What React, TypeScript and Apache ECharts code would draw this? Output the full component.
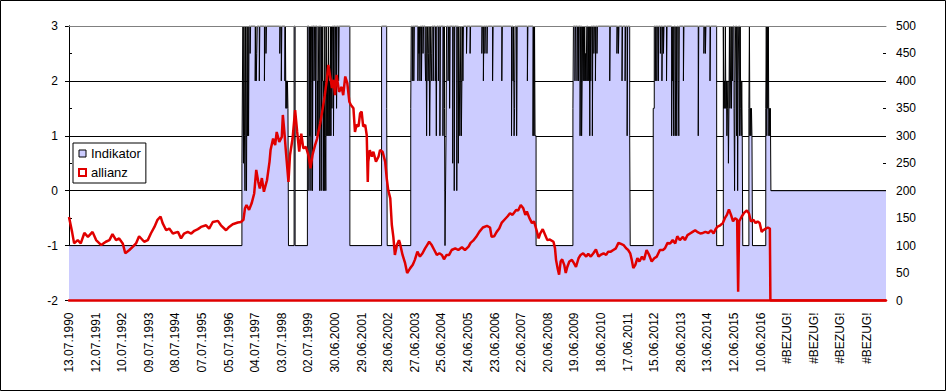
import React, { useEffect, useRef } from "react";
import * as echarts from "echarts";

// Category tick labels, one every 52 weekly points
const TICK_LABELS: string[] = [
  "13.07.1990", "12.07.1991", "10.07.1992", "09.07.1993", "08.07.1994", "07.07.1995",
  "05.07.1996", "04.07.1997", "03.07.1998", "02.07.1999", "30.06.2000", "29.06.2001",
  "28.06.2002", "27.06.2003", "25.06.2004", "24.06.2005", "23.06.2006", "22.06.2007",
  "20.06.2008", "19.06.2009", "18.06.2010", "17.06.2011", "15.06.2012", "28.06.2013",
  "13.06.2014", "12.06.2015", "10.06.2016", "#BEZUG!", "#BEZUG!", "#BEZUG!", "#BEZUG!",
];
const WEEKS_PER_LABEL = 52;
const LAST_WEEK = 1597;

// Indikator (left axis): [week, value] – value holds until next entry
const indikator: [number, number][] = [
  [0, -1], [338, 0.5], [339, 2], [340, 3], [341, 0.5], [342, 3], [343, 1], [344, 0], [345, 3], [346, 1], [347, 0], [348, 3], [349, 1], [350, 3], [351, 1], [352, 3], [354, 2.5], [355, 3], [364, 2], [365, 3], [366, 2], [367, 2.5], [368, 3], [372, 2], [373, 3], [382, 2], [383, 3], [385, 2.5], [386, 3], [412, 2.5], [413, 3], [415, 2], [416, 3], [422, 2], [423, 3], [424, 1.5], [425, 2], [426, 1.5], [427, 2], [428, 1.5], [429, -1], [440, 3], [442, -1],
  [466, 3], [469, 0], [470, 3], [471, 1], [472, 3], [473, 0], [474, 3], [476, 0], [477, 3], [479, 2], [480, 3], [482, 1], [483, 3], [485, 1], [486, 2], [487, 1], [488, 3], [490, 0], [491, 3], [493, 0], [494, 3], [495, 2], [496, 3], [497, 0], [498, 2], [499, 0], [500, 3], [501, 1], [502, 0], [503, 3], [504, 1], [505, 2], [506, 1], [507, 3], [508, 1], [509, 2], [510, 1], [511, 3], [512, 1], [513, 3], [514, 1.5], [515, 3], [517, 1], [518, 3], [520, 2], [521, 3], [523, 1.5], [524, 3], [527, 2], [528, 3], [549, -1],
  [611, 3], [621, 1.5], [622, -1],
  [668, 1.5], [669, 3], [671, 2], [672, 3], [674, 2], [675, 3], [682, 2], [683, 3], [684, 2.5], [685, 3], [686, 2], [687, 3], [689, 2], [690, 3], [692, 2.5], [693, 3], [696, 2.5], [697, 2], [698, 3], [699, 1], [700, 2.5], [701, 3], [702, 2], [703, 2.5], [704, 3], [705, 1], [706, 2], [707, 3], [708, 2.5], [709, 2], [710, 3], [712, 2], [713, 3], [716, 2], [717, 3], [718, 1], [719, 3], [722, 2], [723, 3], [725, 1], [726, 3], [731, 1], [732, 3], [734, 1.5], [735, -1], [736, 0], [737, 1], [738, 3], [741, 2], [742, 3], [744, 1.5], [745, 3], [750, 0.5], [751, 3], [753, 0], [754, 3], [758, 0], [759, 3], [761, 0.5], [762, 3], [763, 2], [764, 1], [765, 2], [766, 3], [767, 1], [768, 2], [769, 3], [770, 2], [771, 3], [777, 2.5], [778, 3], [784, 2.5], [785, 3], [807, 2.5], [808, 3], [810, 2], [811, 3], [813, 2.5], [814, 3], [817, 2.5], [818, 3], [828, 2], [829, 3], [846, 2], [847, 3], [865, 1], [866, 3], [868, 2], [869, 3], [870, 1], [871, 1.5], [872, 3], [875, 1], [876, 3], [896, 2], [897, 3], [907, 1], [908, 3], [909, 1], [910, 3], [911, 1], [913, -1],
  [985, 1.5], [986, 3], [989, 2], [990, 3], [993, 2], [994, 3], [996, 2], [997, 3], [999, 1], [1000, 3], [1002, 1], [1003, 2], [1004, 3], [1005, 2], [1006, 3], [1007, 2], [1008, 3], [1009, 2], [1010, 2.5], [1011, 2], [1012, 3], [1014, 2], [1015, 3], [1016, 2], [1017, 3], [1018, 1], [1019, 3], [1020, 2], [1021, 3], [1023, 1], [1024, 3], [1026, 2.5], [1027, 3], [1029, 2], [1030, 3], [1032, 2.5], [1033, 3], [1057, 2], [1058, 3], [1071, 2.5], [1072, 3], [1074, 2.5], [1075, 3], [1081, 2], [1082, 3], [1087, 2], [1088, 3], [1091, 1], [1092, 3], [1096, 1], [1097, -1],
  [1142, 1.5], [1144, 3], [1146, 2], [1147, 3], [1149, 2], [1150, 3], [1152, 2], [1153, 3], [1156, 2.5], [1157, 3], [1159, 2], [1160, 3], [1162, 2.5], [1163, 3], [1168, 2], [1169, 3], [1178, 1], [1179, 3], [1180, 2], [1181, 3], [1182, 1], [1183, 3], [1185, 1], [1186, 2], [1187, 3], [1188, 1], [1189, 3], [1191, 2], [1192, 1], [1193, 3], [1201, 2], [1202, 3], [1230, 1], [1231, 3], [1241, 2.5], [1242, 3], [1244, 2.5], [1245, 3], [1253, 2], [1254, 3], [1266, -1],
  [1279, 3], [1280, 1.5], [1281, 2], [1282, 1.5], [1283, 3], [1284, 1.5], [1285, 2], [1286, 1], [1287, 1.5], [1288, 2], [1289, 0.5], [1290, 1.5], [1291, 3], [1292, 1.5], [1293, 2], [1294, 3], [1295, 1.5], [1296, 3], [1297, 2], [1298, 3], [1300, 1.5], [1301, 0], [1302, 2], [1303, 3], [1305, 1], [1306, 3], [1307, 0], [1308, 2], [1309, 3], [1311, 1], [1312, 3], [1313, 1.5], [1314, 1], [1315, 2], [1316, 1], [1317, -1],
  [1329, 1.5], [1330, 3], [1331, 1], [1332, 1.5], [1333, 1], [1334, 1.5], [1335, 1], [1336, -1],
  [1362, 1.5], [1363, 3], [1364, 1], [1365, 3], [1366, 1.5], [1367, 3], [1368, 1], [1369, 1.5], [1370, 1], [1371, 1.5], [1372, 0], [1597, 0],
];

// allianz (right axis): [week, price]
const allianz: [number, number][] = [
  [0, 152], [6, 125], [10, 104], [17, 110], [23, 104], [30, 123], [37, 116], [46, 125], [53, 110], [63, 101], [72, 107], [79, 110], [85, 121], [92, 110], [98, 113], [105, 104], [110, 86], [118, 92], [125, 98], [131, 104], [137, 117], [147, 107], [154, 110], [160, 122], [167, 134], [173, 147], [179, 153], [183, 141], [190, 128], [196, 131], [203, 122], [213, 125], [219, 113], [225, 122], [232, 125], [239, 122], [245, 127], [252, 130], [258, 134], [268, 137], [274, 131], [281, 143], [291, 145], [297, 137], [307, 128], [313, 134], [320, 139], [330, 142], [336, 143],
  [341, 147], [344, 168], [347, 174], [352, 165], [357, 177], [362, 195], [366, 238], [370, 216], [373, 204], [377, 223], [381, 198], [387, 219], [392, 253], [394, 274], [399, 295], [403, 283], [406, 307], [411, 289], [416, 298], [418, 338], [421, 307], [424, 271], [429, 216], [432, 265], [437, 295], [442, 347], [446, 307], [450, 271], [454, 304], [458, 277], [463, 280], [468, 265], [472, 241], [476, 265], [481, 283], [485, 295], [491, 323], [496, 350], [500, 374], [504, 402], [507, 429], [510, 411], [514, 387], [517, 402], [520, 374], [523, 411], [528, 380], [533, 389], [536, 374], [540, 408], [544, 396], [548, 362], [551, 356], [556, 350], [559, 307], [562, 320], [566, 317], [569, 341], [572, 344], [575, 317], [579, 320], [582, 301], [584, 216], [585, 253], [588, 274], [592, 262], [595, 271], [600, 253], [605, 262], [608, 274], [613, 271], [618, 253], [621, 223], [624, 201], [628, 186], [631, 138], [634, 116], [637, 83], [641, 101], [645, 110],
  [647, 104], [652, 83], [657, 68], [661, 50], [667, 59], [672, 65], [676, 74], [681, 89], [686, 80], [691, 86], [696, 95], [700, 101], [704, 107], [709, 101], [714, 92], [719, 83], [724, 86], [729, 83], [733, 75], [738, 83], [743, 83], [748, 92], [755, 95], [761, 92], [768, 97], [774, 92], [781, 98], [785, 105], [790, 109], [796, 116], [802, 125], [809, 133], [817, 136], [823, 133], [826, 116], [831, 117], [836, 125], [841, 131], [846, 142], [852, 148], [857, 153], [862, 159], [867, 156], [874, 165], [878, 164], [883, 174], [888, 168], [892, 156], [895, 162], [900, 150], [905, 141], [909, 144], [914, 128], [918, 113], [921, 122], [926, 130], [931, 119], [935, 110], [940, 111],
  [947, 107], [950, 95], [952, 74], [955, 59], [958, 47], [961, 71], [964, 75], [968, 65], [971, 50], [974, 61], [978, 71], [983, 74], [987, 68], [991, 61], [996, 77], [1000, 83], [1005, 86], [1011, 80], [1015, 85], [1020, 80], [1025, 86], [1030, 93], [1035, 80], [1039, 83], [1045, 86], [1050, 83], [1054, 89], [1059, 89], [1064, 92], [1069, 95], [1074, 105], [1079, 103], [1084, 101], [1089, 95], [1093, 92], [1097, 86], [1100, 74], [1103, 59], [1107, 65], [1111, 77], [1115, 71], [1120, 80], [1124, 74], [1129, 92], [1134, 83], [1139, 71], [1144, 77], [1149, 80], [1155, 92], [1161, 92], [1165, 95], [1170, 105], [1175, 104], [1180, 110], [1185, 104], [1189, 117], [1194, 110], [1200, 116], [1204, 110], [1209, 119], [1214, 122], [1219, 125], [1224, 128], [1228, 125], [1234, 122], [1239, 123], [1244, 125], [1250, 123], [1255, 128], [1260, 122], [1264, 130], [1267, 134], [1273, 137], [1278, 141], [1282, 150], [1286, 156], [1290, 166], [1294, 156], [1298, 144], [1302, 150], [1306, 147], [1308, 16], [1310, 144], [1315, 153], [1320, 160], [1325, 164], [1329, 159], [1333, 144], [1338, 147], [1342, 141], [1346, 144], [1350, 141], [1354, 125], [1357, 128], [1362, 131], [1366, 133], [1370, 131], [1371, 0], [1597, 0],
];

const FONT = "Arial, 'Liberation Sans', sans-serif";
const RED = "#e00000";
const LAVENDER = "#ccccff";

export default function App() {
  const ref = useRef<HTMLDivElement>(null);

  useEffect(() => {
    document.body.style.margin = "0";
    if (!ref.current) return;
    const chart = echarts.init(ref.current, undefined, { renderer: "svg" });
    const option: any = {
      animation: false,
      backgroundColor: "#ffffff",
      grid: { left: 69, top: 26, width: 817, height: 274.5, containLabel: false },
      legend: {
        orient: "vertical",
        left: 73,
        top: 143,
        itemWidth: 7,
        itemHeight: 7,
        itemGap: 6,
        padding: [4, 5, 4, 5],
        borderColor: "#000",
        borderWidth: 1,
        backgroundColor: "#fff",
        textStyle: { fontSize: 13, color: "#000", fontFamily: FONT },
        data: [
          { name: "Indikator", icon: "rect", itemStyle: { color: LAVENDER, borderColor: "#000", borderWidth: 1 } },
          { name: "allianz", icon: "rect", itemStyle: { color: "#fff", borderColor: RED, borderWidth: 2 } },
        ],
      },
      xAxis: [
        {
          type: "value",
          min: 0,
          max: LAST_WEEK,
          interval: WEEKS_PER_LABEL,
          position: "bottom",
          z: 5,
          axisLine: { show: true, onZero: false, lineStyle: { color: RED, width: 2.5 } },
          axisTick: { show: false },
          splitLine: { show: false },
          axisLabel: {
            rotate: 90,
            margin: 12,
            fontSize: 12,
            color: "#000",
            fontFamily: FONT,
            showMaxLabel: false,
            formatter: (v: number) => {
              if (v % WEEKS_PER_LABEL !== 0) return "";
              return TICK_LABELS[v / WEEKS_PER_LABEL] ?? "";
            },
          },
        },
        {
          type: "value",
          min: 0,
          max: LAST_WEEK,
          position: "top",
          z: 5,
          axisLine: { show: true, onZero: false, lineStyle: { color: "#808080", width: 1 } },
          axisTick: { show: false },
          axisLabel: { show: false },
          splitLine: { show: false },
        },
      ],
      yAxis: [
        {
          type: "value",
          min: -2,
          max: 3,
          interval: 1,
          position: "left",
          axisLine: { show: true, lineStyle: { color: "#000", width: 1 } },
          axisTick: { show: true, length: 4, lineStyle: { color: "#000" } },
          axisLabel: { margin: 11, fontSize: 12, color: "#000", fontFamily: FONT },
          splitLine: { show: true, lineStyle: { color: "#000", width: 1 } },
        },
        {
          type: "value",
          min: 0,
          max: 500,
          interval: 50,
          position: "right",
          axisLine: { show: true, lineStyle: { color: "#000", width: 1 } },
          axisTick: { show: true, length: 3, lineStyle: { color: "#000" } },
          axisLabel: { margin: 10, fontSize: 12, color: "#000", fontFamily: FONT },
          splitLine: { show: false },
        },
        {
          type: "value",
          min: 0,
          max: 500,
          interval: 50,
          position: "right",
          axisLine: { show: false },
          axisTick: { show: true, inside: true, length: 3, lineStyle: { color: "#000" } },
          axisLabel: { show: false },
          splitLine: { show: false },
        },
      ],
      series: [
        {
          name: "Indikator",
          type: "line",
          xAxisIndex: 0,
          yAxisIndex: 0,
          step: "end",
          symbol: "none",
          data: indikator,
          lineStyle: { color: "#000", width: 1 },
          itemStyle: { color: LAVENDER },
          areaStyle: { color: LAVENDER, opacity: 1, origin: "start" },
          z: 2,
        },
        {
          name: "allianz",
          type: "line",
          xAxisIndex: 0,
          yAxisIndex: 1,
          symbol: "none",
          data: allianz,
          lineStyle: { color: RED, width: 2.5 },
          itemStyle: { color: RED },
          z: 3,
        },
      ],
      graphic: [
        {
          type: "rect",
          silent: true,
          z: 100,
          shape: { x: 0.5, y: 0.5, width: 945, height: 390 },
          style: { fill: "none", stroke: "#000", lineWidth: 1 },
        },
      ],
    };
    chart.setOption(option);
    return () => chart.dispose();
  }, []);

  return <div ref={ref} style={{ width: 948, height: 392 }} />;
}
